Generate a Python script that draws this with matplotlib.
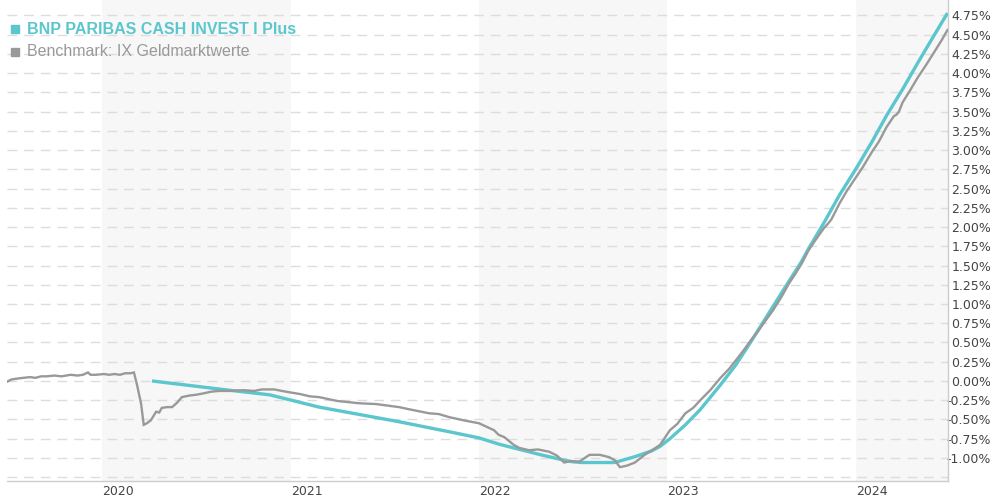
import matplotlib
matplotlib.use("Agg")
import matplotlib.pyplot as plt
import matplotlib.ticker as mticker
from matplotlib.lines import Line2D
import pandas as pd

# Fund: BNP PARIBAS CASH INVEST I Plus (cumulative %)
fund_dates = [
    "2020-04-07", "2020-09-03", "2020-11-21", "2021-02-25", "2021-07-30",
    "2021-11-04", "2022-01-01", "2022-02-08", "2022-03-09", "2022-05-01",
    "2022-06-15", "2022-07-01", "2022-07-20", "2022-09-20", "2022-10-01",
    "2022-11-01", "2022-12-01", "2022-12-18", "2023-01-06", "2023-02-05",
    "2023-03-06", "2023-04-14", "2023-05-14", "2023-06-12", "2023-07-11",
    "2023-08-10", "2023-09-18", "2023-10-01", "2023-11-01", "2023-12-01",
    "2024-01-01", "2024-02-01", "2024-03-01", "2024-04-01", "2024-05-01",
    "2024-06-01", "2024-06-27",
]
fund_values = [
    0.00, -0.12, -0.18, -0.34, -0.53,
    -0.66, -0.74, -0.82, -0.87, -0.96,
    -1.03, -1.05, -1.06, -1.06, -1.04,
    -0.98, -0.91, -0.85, -0.75, -0.57,
    -0.37, -0.05, 0.21, 0.51, 0.82,
    1.14, 1.55, 1.71, 2.06, 2.42,
    2.75, 3.10, 3.45, 3.79, 4.14,
    4.49, 4.78,
]

# Benchmark: IX Geldmarktwerte
bench_dates = [
    "2019-07-01", "2019-07-10", "2019-07-20", "2019-08-01", "2019-08-15",
    "2019-08-25", "2019-09-05", "2019-09-15", "2019-10-01", "2019-10-15",
    "2019-11-01", "2019-11-15", "2019-11-25", "2019-12-05", "2019-12-10",
    "2019-12-20", "2020-01-05", "2020-01-15", "2020-01-25", "2020-02-05",
    "2020-02-15", "2020-02-25", "2020-03-03", "2020-03-09", "2020-03-17",
    "2020-03-22", "2020-03-28", "2020-04-05", "2020-04-15", "2020-04-21",
    "2020-04-26", "2020-05-06", "2020-05-16", "2020-05-26", "2020-06-04",
    "2020-06-18", "2020-07-01", "2020-07-17", "2020-07-30", "2020-08-15",
    "2020-09-03", "2020-10-02", "2020-10-22", "2020-11-06", "2020-11-30",
    "2020-12-15", "2021-01-01", "2021-01-19", "2021-02-07", "2021-02-25",
    "2021-04-01", "2021-05-14", "2021-06-15", "2021-07-30", "2021-08-20",
    "2021-09-26", "2021-10-15", "2021-11-04", "2021-12-01", "2022-01-01",
    "2022-01-30", "2022-02-08", "2022-02-19", "2022-03-09", "2022-03-20",
    "2022-04-08", "2022-04-25", "2022-05-17", "2022-06-01", "2022-06-15",
    "2022-06-28", "2022-07-14", "2022-08-03", "2022-08-23", "2022-09-10",
    "2022-09-21", "2022-10-01", "2022-10-15", "2022-10-30", "2022-11-18",
    "2022-12-05", "2022-12-18", "2023-01-06", "2023-01-20", "2023-02-05",
    "2023-02-20", "2023-03-06", "2023-03-25", "2023-04-14", "2023-05-01",
    "2023-05-14", "2023-05-28", "2023-06-12", "2023-06-25", "2023-07-11",
    "2023-07-25", "2023-08-10", "2023-08-25", "2023-09-05", "2023-09-18",
    "2023-10-01", "2023-10-15", "2023-11-01", "2023-11-08", "2023-11-15",
    "2023-12-01", "2023-12-15", "2024-01-01", "2024-01-15", "2024-02-01",
    "2024-02-15", "2024-03-01", "2024-03-15", "2024-03-20", "2024-03-25",
    "2024-04-01", "2024-04-15", "2024-05-01", "2024-05-15", "2024-06-01",
    "2024-06-15", "2024-06-27",
]
bench_values = [
    -0.01, 0.02, 0.03, 0.04, 0.05,
    0.04, 0.06, 0.06, 0.07, 0.06,
    0.08, 0.07, 0.08, 0.11, 0.08,
    0.08, 0.09, 0.08, 0.09, 0.08,
    0.10, 0.10, 0.11, -0.05, -0.30,
    -0.57, -0.55, -0.51, -0.40, -0.41,
    -0.35, -0.34, -0.34, -0.28, -0.21,
    -0.19, -0.18, -0.16, -0.14, -0.13,
    -0.13, -0.12, -0.13, -0.11, -0.11,
    -0.13, -0.15, -0.17, -0.20, -0.21,
    -0.26, -0.29, -0.30, -0.34, -0.37,
    -0.42, -0.43, -0.47, -0.51, -0.55,
    -0.64, -0.70, -0.73, -0.83, -0.87,
    -0.90, -0.89, -0.92, -0.97, -1.06,
    -1.04, -1.05, -0.96, -0.96, -0.99,
    -1.03, -1.12, -1.10, -1.06, -0.96,
    -0.89, -0.83, -0.64, -0.56, -0.42,
    -0.35, -0.25, -0.12, 0.04, 0.16,
    0.27, 0.39, 0.53, 0.64, 0.79,
    0.92, 1.09, 1.27, 1.38, 1.52,
    1.69, 1.83, 1.99, 2.04, 2.10,
    2.31, 2.47, 2.64, 2.78, 2.97,
    3.11, 3.30, 3.44, 3.46, 3.50,
    3.62, 3.77, 3.95, 4.09, 4.27,
    4.42, 4.56,
]

fund_name = "BNP PARIBAS CASH INVEST I Plus"
bench_name = "Benchmark: IX Geldmarktwerte"
years = [2020, 2021, 2022, 2023, 2024]
shaded_years = [2020, 2022, 2024]

teal = "#5BC6CD"
grey = "#999999"

fig = plt.figure(figsize=(9.9, 5.0), dpi=100)
ax = fig.add_axes([7 / 990, 19 / 500, 941 / 990, 481 / 500])

x_start = pd.Timestamp("2019-07-01")
x_end = pd.Timestamp("2024-06-28")

for yr in shaded_years:
    ax.axvspan(pd.Timestamp(f"{yr}-01-01"), min(pd.Timestamp(f"{yr + 1}-01-01"), x_end),
               color="#F7F7F7", zorder=0, lw=0)

ax.plot(pd.to_datetime(fund_dates), fund_values, color=teal, lw=2.4,
        solid_capstyle="butt", zorder=3)
ax.plot(pd.to_datetime(bench_dates), bench_values, color=grey, lw=1.7,
        solid_joinstyle="miter", zorder=4)

ax.set_xlim(x_start, x_end)
ax.set_ylim(-1.30, 4.95)

# y axis on the right, labels right aligned so the minus hangs left
grid_ticks = [i * 0.25 for i in range(-5, 20)]
ax.yaxis.tick_right()
ax.set_yticks(grid_ticks)
ax.yaxis.set_major_formatter(mticker.FuncFormatter(
    lambda v, _: "" if v < -1.1 else f"{v:.2f}%".replace("-0.00", "0.00")))
ax.tick_params(axis="y", length=0, pad=31, labelsize=9, labelcolor="#444444")
for lbl in ax.get_yticklabels():
    lbl.set_horizontalalignment("right")
ax.grid(axis="y", color="#DDDDDD", linestyle=(0, (7, 5)), lw=1.0, zorder=1)

ax.set_xticks([pd.Timestamp(f"{y}-01-01") for y in years])
ax.set_xticklabels([str(y) for y in years])
ax.tick_params(axis="x", length=0, pad=3, labelsize=9, labelcolor="#444444")
for lbl in ax.get_xticklabels():
    lbl.set_horizontalalignment("left")

for side in ("top", "left"):
    ax.spines[side].set_visible(False)
for side in ("right", "bottom"):
    ax.spines[side].set_color("#CCCCCC")
    ax.spines[side].set_linewidth(1.0)

# legend drawn by hand, top left
for name, col, weight, ypx in [(fund_name, teal, "bold", 29), (bench_name, grey, "normal", 52)]:
    fig.add_artist(Line2D([15 / 990], [1 - ypx / 500], marker="s", markersize=6,
                          linestyle="none", color=col, transform=fig.transFigure))
    fig.text(27 / 990, 1 - ypx / 500, name, color=col, fontweight=weight,
             family="Liberation Sans", fontsize=11.5, va="center", ha="left")

fig.savefig("out.png", dpi=100)
